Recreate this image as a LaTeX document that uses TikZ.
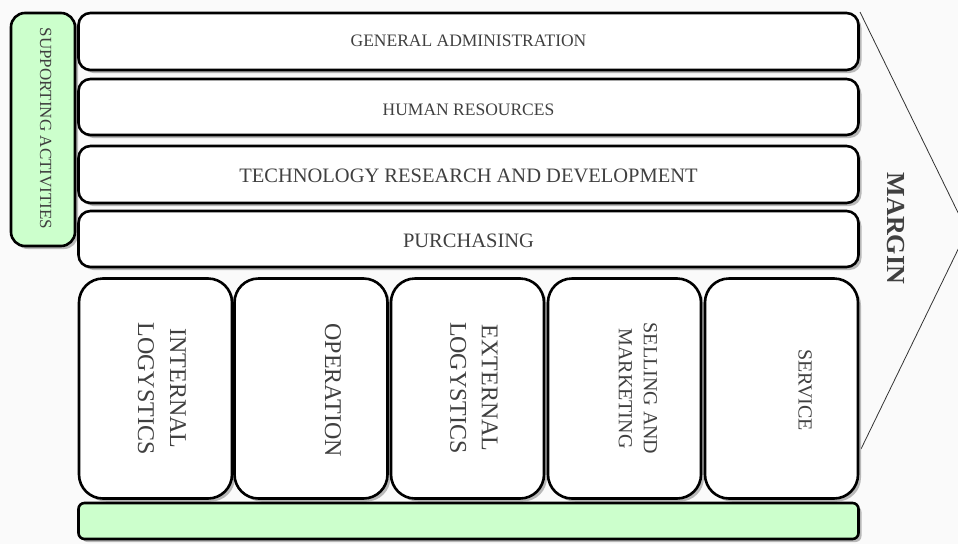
\documentclass[tikz,border=0pt]{standalone}
\usepackage{fontspec}
\setmainfont{Liberation Serif}
\usetikzlibrary{shadows}
\definecolor{bg}{HTML}{FAFAFA}
\definecolor{supgreen}{HTML}{CCFFCC}
\definecolor{txt}{HTML}{404040}
\definecolor{shadowgray}{HTML}{B8B8B8}
\definecolor{arrowline}{HTML}{333333}
\begin{document}
\begin{tikzpicture}[x=1pt,y=-1pt,
  box/.style={draw=black, line width=2.6pt, fill=white,
    drop shadow={shadow xshift=3pt, shadow yshift=-3pt, fill=shadowgray, opacity=1},
    inner sep=0pt, outer sep=0pt},
  rowbox/.style={box, rounded corners=12pt, minimum width=780pt},
  primbox/.style={box, rounded corners=24pt, minimum width=153pt, minimum height=220pt},
  lbl/.style={text=txt, inner sep=0pt, align=center},
  vlbl/.style={lbl, rotate=-90},
  rowfont/.style={font=\fontsize{17.5}{20}\selectfont},
  rowfontbig/.style={font=\fontsize{20.5}{24}\selectfont}]
\useasboundingbox (0,0) rectangle (958,544);
\fill[bg] (0,0) rectangle (958,544);
\clip (0,0) rectangle (958,544);

% margin arrow
\coordinate (mtop) at (860,12);
\coordinate (mtip) at (967,231);
\coordinate (mbot) at (861,449);
\draw[arrowline, line width=0.8pt] (mtop) -- (mtip) -- (mbot);
\node[lbl, rotate=-90, font=\fontsize{26}{30}\selectfont\bfseries] (margin) at (896,228.5) {MARGIN};

% supporting activities
\node[box, fill=supgreen, rounded corners=14pt, minimum width=64pt, minimum height=233pt] (sup) at (43,129.5) {};
\node[vlbl, font=\fontsize{17}{20}\selectfont] (supt) at (45.5,128.5) {SUPPORTING ACTIVITIES};

% support rows
\node[rowbox, minimum height=57pt] (ga) at (468.5,41.5) {};
\node[rowbox, minimum height=56pt] (hr) at (468.5,107) {};
\node[rowbox, minimum height=57pt] (tech) at (468.5,174.5) {};
\node[rowbox, minimum height=56pt] (pur) at (468.5,239) {};
\node[lbl, rowfont] (gat) at (468.5,41) {GENERAL ADMINISTRATION};
\node[lbl, rowfont] (hrt) at (468.5,110) {HUMAN RESOURCES};
\node[lbl, rowfontbig] (techt) at (468.5,175.5) {TECHNOLOGY RESEARCH AND DEVELOPMENT};
\node[lbl, rowfontbig] (purt) at (468.5,240.5) {PURCHASING};

% primary activities
\node[primbox] (p1) at (155.5,388.5) {};
\node[primbox] (p2) at (311,388.5) {};
\node[primbox] (p3) at (467.5,388.5) {};
\node[primbox] (p4) at (624.5,388.5) {};
\node[primbox] (p5) at (781.5,388.5) {};

\node[vlbl, font=\fontsize{24}{32}\selectfont] (p1t) at (162,388.5) {INTERNAL\\LOGYSTICS};
\node[vlbl, font=\fontsize{24}{32}\selectfont] (p2t) at (333,390) {OPERATION};
\node[vlbl, font=\fontsize{24}{31.5}\selectfont] (p3t) at (474,388) {EXTERNAL\\LOGYSTICS};
\node[vlbl, font=\fontsize{20}{25}\selectfont] (p4t) at (638,388.5) {SELLING AND\\MARKETING};
\node[vlbl, font=\fontsize{20}{25}\selectfont] (p5t) at (805,390) {SERVICE};

% bottom bar
\node[box, fill=supgreen, rounded corners=6pt, minimum width=780pt, minimum height=36pt] (bar) at (468.5,521) {};
\end{tikzpicture}
\end{document}
